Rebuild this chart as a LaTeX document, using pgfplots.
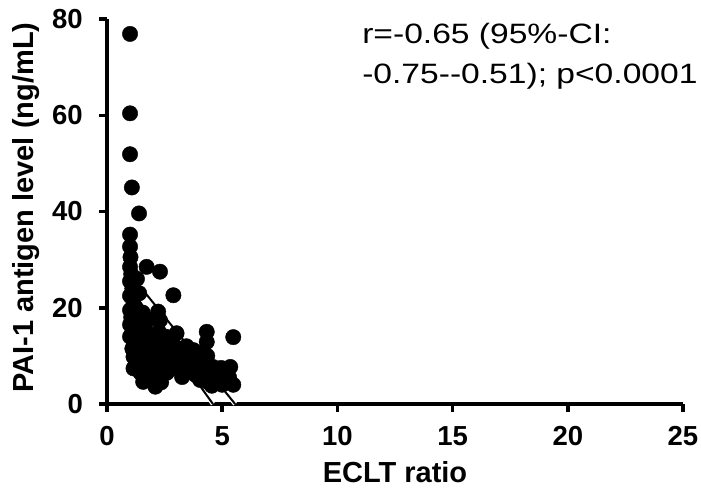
\documentclass[border=0pt]{standalone}
\usepackage{pgfplots}
\pgfplotsset{compat=1.18}
\usepackage{fontspec}
\setmainfont{Liberation Sans}
\newfontfamily\annfont[FakeStretch=1.2]{Liberation Sans}
\begin{document}
\begin{tikzpicture}
\useasboundingbox (-107pt,-92pt) rectangle (594pt,404pt);
\begin{axis}[
    at={(0pt,0pt)}, anchor=origin,
    scale only axis,
    width=576pt, height=385pt,
    xmin=0, xmax=25, ymin=0, ymax=80,
    axis x line*=bottom, axis y line*=left,
    axis line style={line width=4pt, -},
    xtick={0,5,...,25}, ytick={0,20,...,80},
    tick align=outside, major tick length=8pt,
    tick style={line width=3.5pt, black},
    /pgf/number format/assume math mode=true,
    ticklabel style={font=\bfseries\fontsize{27.5}{27.5}\selectfont, inner sep=0pt},
    xticklabel style={anchor=base, yshift=-33.5pt},
    yticklabel style={anchor=east, xshift=-16pt},
    xlabel={ECLT ratio},
    ylabel={PAI-1 antigen level (ng/mL)},
    label style={font=\bfseries\fontsize{29}{29}\selectfont, inner sep=0pt},
    xlabel style={at={(axis cs:12.5,-16.4)}, anchor=base},
    ylabel style={at={(axis cs:-3.21,40.8)}, anchor=base},
    clip=false,
]
% PAI-1 vs ECLT ratio
\addplot[only marks, mark=*, mark size=7.7pt, black] coordinates {
(1.00,76.9)(1.00,60.4)(1.00,51.9)(1.08,45.0)(1.39,39.6)(1.00,35.2)(1.00,32.7)
(1.02,30.5)(1.00,28.5)(1.05,27.0)(1.00,25.5)(1.10,24.0)(1.00,22.5)(1.15,21.0)
(1.00,19.5)(1.05,18.0)(1.00,16.5)(1.10,15.0)(1.00,14.0)(1.20,13.0)(1.10,11.5)
(1.15,9.8)(1.15,7.4)
(1.30,26.0)(1.40,23.0)(1.25,20.0)(1.55,19.0)(1.80,17.5)(1.30,8.0)(1.60,11.0)
(1.72,28.5)(2.30,27.5)(2.88,22.6)
(1.35,17.0)(1.45,14.5)(1.40,11.0)(1.50,9.0)(1.45,6.5)(1.57,4.6)
(1.65,15.5)(1.70,12.5)(1.75,10.0)(1.80,7.5)(1.85,5.0)
(1.95,13.5)(2.00,11.0)(2.05,8.5)(2.10,3.6)(2.05,6.0)
(2.22,19.2)(2.30,17.4)(2.25,15.0)(2.30,12.5)(2.35,10.0)(2.40,7.0)(2.35,4.5)
(2.55,14.0)(2.60,11.5)(2.65,9.0)(2.60,6.5)
(2.85,12.5)(2.90,10.0)(2.95,7.5)
(3.02,14.7)(3.15,11.5)(3.20,8.5)(3.26,5.6)
(3.45,12.0)(3.50,9.5)(3.55,7.0)
(3.75,11.2)(3.80,8.5)(3.85,6.0)
(4.04,5.0)(4.10,8.0)(4.00,10.5)
(4.33,15.0)(4.33,12.9)(4.35,10.0)(4.30,7.0)(4.40,4.5)
(4.60,7.7)(4.65,5.5)(4.55,3.8)
(4.90,5.6)(4.95,7.5)(5.00,4.0)
(5.35,7.7)(5.48,4.0)(5.30,5.5)(5.48,13.9)
};
% regression lines
\addplot[white, line width=4.5pt] coordinates {(1.0,24) (4.6,0)};
\addplot[white, line width=4.5pt] coordinates {(1.0,27) (5.56,0)};
\addplot[black, line width=2pt] coordinates {(1.0,24) (4.6,0)};
\addplot[black, line width=2pt] coordinates {(1.0,27) (5.56,0)};
\node[anchor=base west, inner sep=0pt, font=\annfont\fontsize{28}{28}\selectfont]
    at (axis cs:11.07,75.0) {r=-0.65 (95\%-CI:};
\node[anchor=base west, inner sep=0pt, font=\annfont\fontsize{28}{28}\selectfont]
    at (axis cs:11.07,66.5) {-0.75-{}-0.51); p<0.0001};
\end{axis}
\end{tikzpicture}
\end{document}
